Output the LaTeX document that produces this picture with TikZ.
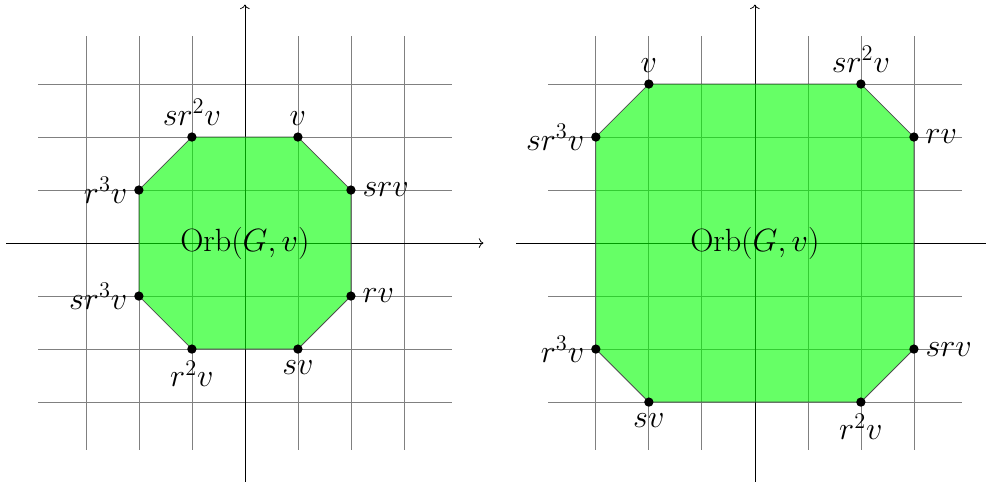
\documentclass[tikz,border=0pt]{standalone}
\usepackage{amsmath}
\usetikzlibrary{arrows.meta}
\tikzset{
  pt/.style={circle,fill=black,inner sep=0pt,minimum size=5pt},
  orb/.style={fill=green,fill opacity=0.6,draw=black!70},
  gridline/.style={gray,thin},
}

\begin{document}
\begin{tikzpicture}[font=\LARGE]
  \clip (-4.62,-4.51) rectangle (13.98,4.585);
  % first orbit
  \begin{scope}
    \draw[gridline] (-3.9,-3.9) grid (3.9,3.9);
    \draw[->] (-4.5,0) -- (4.5,0);
    \draw[->] (0,-4.5) -- (0,4.5);
    \coordinate (L1) at (1,2);   \coordinate (L2) at (-1,2);
    \coordinate (L3) at (-2,1);  \coordinate (L4) at (-2,-1);
    \coordinate (L5) at (-1,-2); \coordinate (L6) at (1,-2);
    \coordinate (L7) at (2,-1);  \coordinate (L8) at (2,1);
    \filldraw[orb] (L1)--(L2)--(L3)--(L4)--(L5)--(L6)--(L7)--(L8)--cycle;
    \foreach \n/\t/\s in {L1/v/above,L2/sr^2v/above,L3/r^3v/left,L4/sr^3v/left,
                          L5/r^2v/below,L6/sv/below,L7/rv/right,L8/srv/right}
      \node[pt,label=\s:$\t$] (d\n) at (\n) {};
    \node (orbL) at (0,0) {$\mathrm{Orb}(G,v)$};
  \end{scope}
  % second orbit
  \begin{scope}[xshift=9.62cm]
    \draw[gridline] (-3.9,-3.9) grid (3.9,3.9);
    \draw[->] (-4.5,0) -- (4.5,0);
    \draw[->] (0,-4.5) -- (0,4.5);
    \coordinate (R1) at (-2,3);  \coordinate (R2) at (2,3);
    \coordinate (R3) at (3,2);   \coordinate (R4) at (3,-2);
    \coordinate (R5) at (2,-3);  \coordinate (R6) at (-2,-3);
    \coordinate (R7) at (-3,-2); \coordinate (R8) at (-3,2);
    \filldraw[orb] (R1)--(R2)--(R3)--(R4)--(R5)--(R6)--(R7)--(R8)--cycle;
    \foreach \n/\t/\s in {R1/v/above,R2/sr^2v/above,R3/rv/right,R4/srv/right,
                          R5/r^2v/below,R6/sv/below,R7/r^3v/left,R8/sr^3v/left}
      \node[pt,label=\s:$\t$] (d\n) at (\n) {};
    \node (orbR) at (0,0) {$\mathrm{Orb}(G,v)$};
  \end{scope}
\end{tikzpicture}
\end{document}
